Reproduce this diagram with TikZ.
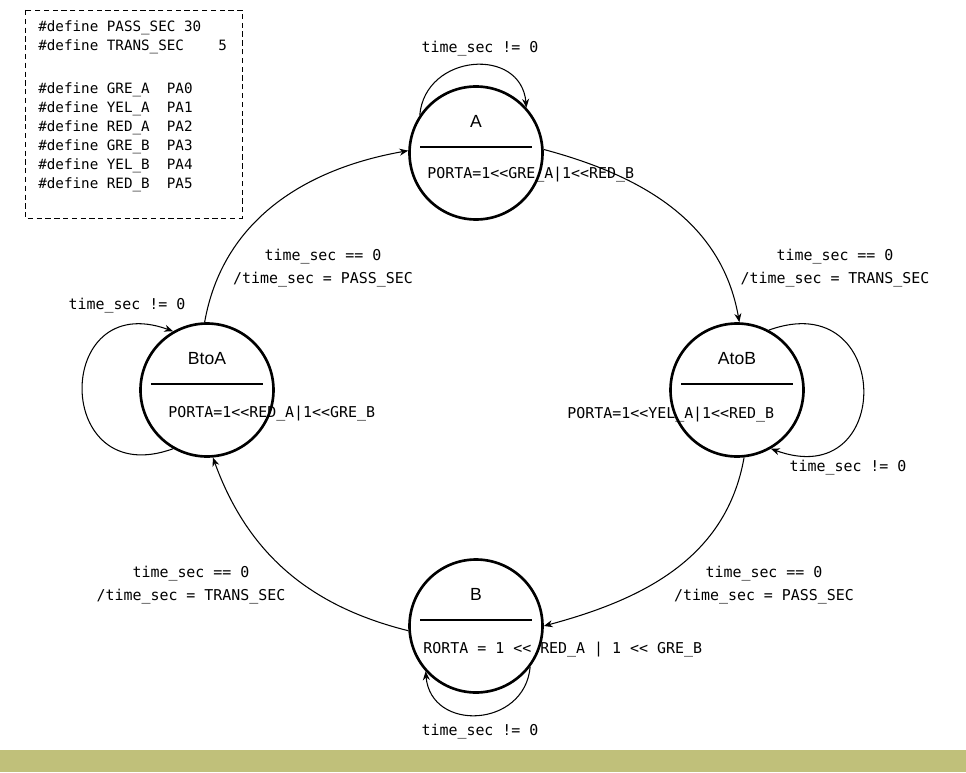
\documentclass[tikz,border=0pt]{standalone}
\usepackage{fontspec}
\setmainfont{Liberation Sans}
\newfontfamily\codefont{DejaVu Sans Mono}
\usetikzlibrary{arrows.meta}
\definecolor{bandgreen}{RGB}{192,192,122}
\begin{document}
\begin{tikzpicture}[
sstate/.style={draw,circle,line width=1.5pt,minimum size=2.66cm,inner sep=0},
sname/.style={font=\fontsize{10}{12}\selectfont,inner sep=0},
code/.style={font=\codefont\fontsize{8.5}{13}\selectfont,inner sep=0,align=center},
trans/.style={-{Stealth[length=5pt,width=4pt]},line width=0.6pt}]
\useasboundingbox (-9.52,-7.64) rectangle (9.8,7.8);
\fill[bandgreen] (-9.52,-7.64) rectangle (9.8,-7.2);
% defines
\draw[dash pattern=on 3pt off 2pt,line width=0.5pt] (-9.02,7.6) rectangle (-4.68,3.44);
\node[code,anchor=north west,align=left,font=\codefont\fontsize{8.1}{10.8}\selectfont] (defs) at (-8.76,7.40) {\#define PASS\_SEC 30\\\#define TRANS\_SEC~~~~5\\[14pt]\#define GRE\_A~ PA0\\\#define YEL\_A~ PA1\\\#define RED\_A~ PA2\\\#define GRE\_B~ PA3\\\#define YEL\_B~ PA4\\\#define RED\_B~ PA5};
% states
\node[sstate] (A) at (0,4.74) {};
\node[sstate] (AtoB) at (5.22,0) {};
\node[sstate] (B) at (0,-4.72) {};
\node[sstate] (BtoA) at (-5.38,0) {};
\node[sname] (Aname) at ([yshift=0.63cm]A.center) {A};
\node[sname] (AtoBname) at ([yshift=0.63cm]AtoB.center) {AtoB};
\node[sname] (Bname) at ([yshift=0.63cm]B.center) {B};
\node[sname] (BtoAname) at ([yshift=0.63cm]BtoA.center) {BtoA};
\draw[line width=0.6pt] ([shift={(-1.12,0.12)}]A.center) -- ([shift={(1.12,0.12)}]A.center);
\draw[line width=0.6pt] ([shift={(-1.12,0.12)}]AtoB.center) -- ([shift={(1.12,0.12)}]AtoB.center);
\draw[line width=0.6pt] ([shift={(-1.12,0.12)}]B.center) -- ([shift={(1.12,0.12)}]B.center);
\draw[line width=0.6pt] ([shift={(-1.12,0.12)}]BtoA.center) -- ([shift={(1.12,0.12)}]BtoA.center);
\node[code,anchor=west] (Aact) at ([shift={(-0.98,-0.44)}]A.center) {PORTA=1<{}<GRE\_A|1<{}<RED\_B};
\node[code,anchor=west] (AtoBact) at ([shift={(-3.4,-0.5)}]AtoB.center) {PORTA=1<{}<YEL\_A|1<{}<RED\_B};
\node[code,anchor=west] (Bact) at ([shift={(-1.06,-0.48)}]B.center) {RORTA = 1 <{}< RED\_A | 1 <{}< GRE\_B};
\node[code,anchor=west] (BtoAact) at ([shift={(-0.78,-0.48)}]BtoA.center) {PORTA=1<{}<RED\_A|1<{}<GRE\_B};
% transitions
\draw[trans] (BtoA.92) to[out=80,in=190] (A.178);
\draw[trans] (A.3) to[out=-15,in=100] (AtoB.88);
\draw[trans] (AtoB.-84) to[out=-100,in=15] (B.0);
\draw[trans] (B.184) to[out=166,in=-70] (BtoA.-85);
\node[code] (tBA) at (-3.06,2.44) {time\_sec == 0\\/time\_sec = PASS\_SEC};
\node[code] (tAAB) at (7.18,2.44) {time\_sec == 0\\/time\_sec = TRANS\_SEC};
\node[code] (tABB) at (5.76,-3.9) {time\_sec == 0\\/time\_sec = PASS\_SEC};
\node[code] (tBBA) at (-5.7,-3.9) {time\_sec == 0\\/time\_sec = TRANS\_SEC};
% loops
\draw[trans] (A.146) to[out=85,in=95,looseness=1.48] (A.42);
\draw[trans] (AtoB.62) to[out=20,in=-20,looseness=2.85] (AtoB.-60);
\draw[trans] (B.-37) to[out=-95,in=-85,looseness=1.5] (B.222);
\draw[trans] (BtoA.240) to[out=200,in=160,looseness=2.8] (BtoA.120);
\node[code] (Aloop) at (0.08,6.82) {time\_sec != 0};
\node[code] (AtoBloop) at (7.44,-1.56) {time\_sec != 0};
\node[code] (Bloop) at (0.08,-6.84) {time\_sec != 0};
\node[code] (BtoAloop) at (-6.98,1.68) {time\_sec != 0};
\end{tikzpicture}
\end{document}
